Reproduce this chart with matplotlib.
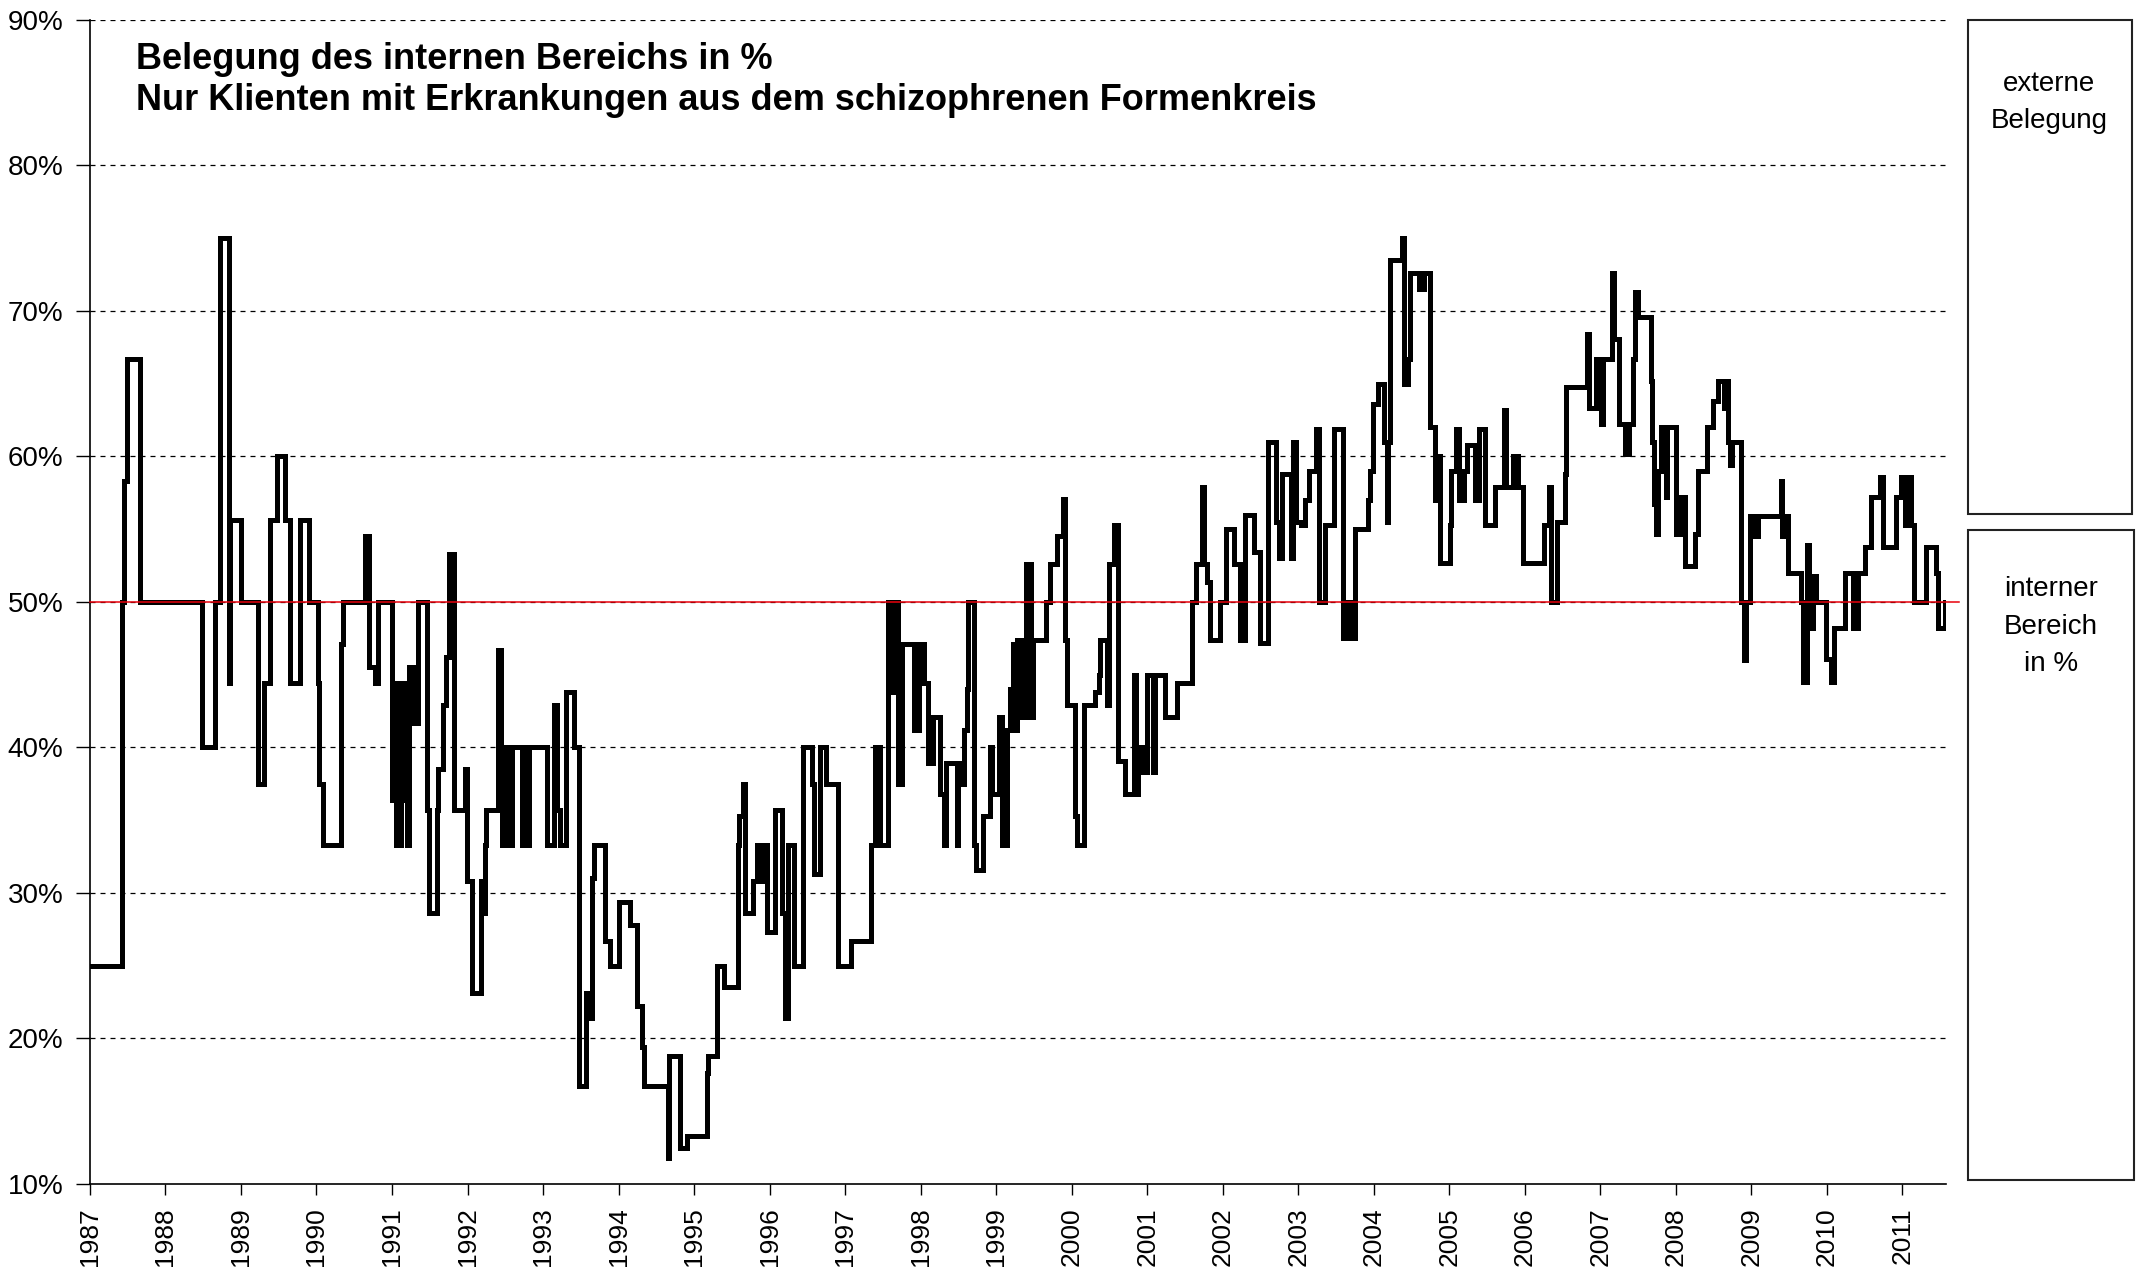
import matplotlib
matplotlib.use('Agg')
matplotlib.rcParams.update({'font.family': ['Liberation Sans', 'DejaVu Sans']})
matplotlib.rcParams.update({'font.size': 20})
import matplotlib.pyplot as plt
from matplotlib.patches import Rectangle
from matplotlib.ticker import FuncFormatter

# step change dates (decimal years) and occupancy of the internal area in %
step_years = [
    1987.00, 1987.42, 1987.45, 1987.49, 1987.66, 1988.48, 1988.66, 1988.72, 1988.84, 1988.86,
    1989.00, 1989.22, 1989.31, 1989.39, 1989.48, 1989.58, 1989.65, 1989.78, 1989.90, 1990.02,
    1990.04, 1990.08, 1990.32, 1990.35, 1990.64, 1990.70, 1990.78, 1990.81, 1991.00, 1991.03,
    1991.05, 1991.12, 1991.14, 1991.17, 1991.20, 1991.23, 1991.28, 1991.35, 1991.47, 1991.49,
    1991.59, 1991.61, 1991.68, 1991.71, 1991.75, 1991.82, 1991.97, 1991.99, 1992.06, 1992.18,
    1992.20, 1992.23, 1992.25, 1992.40, 1992.44, 1992.46, 1992.51, 1992.52, 1992.59, 1992.72,
    1992.75, 1992.77, 1992.81, 1993.05, 1993.15, 1993.19, 1993.22, 1993.31, 1993.41, 1993.48,
    1993.57, 1993.58, 1993.65, 1993.68, 1993.82, 1993.89, 1994.01, 1994.15, 1994.25, 1994.31,
    1994.34, 1994.65, 1994.67, 1994.81, 1994.91, 1995.17, 1995.19, 1995.31, 1995.40, 1995.58,
    1995.60, 1995.65, 1995.67, 1995.78, 1995.83, 1995.88, 1995.92, 1995.97, 1996.07, 1996.17,
    1996.21, 1996.24, 1996.33, 1996.44, 1996.56, 1996.59, 1996.67, 1996.75, 1996.91, 1997.08,
    1997.34, 1997.39, 1997.46, 1997.57, 1997.63, 1997.67, 1997.70, 1997.76, 1997.91, 1997.98,
    1998.04, 1998.10, 1998.17, 1998.26, 1998.31, 1998.34, 1998.48, 1998.50, 1998.52, 1998.57,
    1998.61, 1998.63, 1998.71, 1998.74, 1998.83, 1998.92, 1998.95, 1999.04, 1999.08, 1999.14,
    1999.19, 1999.22, 1999.25, 1999.28, 1999.33, 1999.39, 1999.46, 1999.49, 1999.66, 1999.71,
    1999.80, 1999.89, 1999.91, 1999.94, 2000.04, 2000.05, 2000.07, 2000.17, 2000.31, 2000.36,
    2000.38, 2000.47, 2000.49, 2000.50, 2000.56, 2000.62, 2000.71, 2000.82, 2000.85, 2000.88,
    2000.93, 2001.00, 2001.08, 2001.10, 2001.23, 2001.40, 2001.59, 2001.65, 2001.72, 2001.75,
    2001.79, 2001.83, 2001.96, 2002.04, 2002.15, 2002.23, 2002.30, 2002.42, 2002.49, 2002.60,
    2002.71, 2002.75, 2002.79, 2002.90, 2002.93, 2002.97, 2003.04, 2003.09, 2003.14, 2003.24,
    2003.27, 2003.35, 2003.47, 2003.60, 2003.62, 2003.65, 2003.68, 2003.73, 2003.75, 2003.92,
    2003.95, 2003.99, 2004.06, 2004.13, 2004.17, 2004.19, 2004.22, 2004.37, 2004.40, 2004.45,
    2004.48, 2004.60, 2004.67, 2004.75, 2004.81, 2004.84, 2004.88, 2005.01, 2005.03, 2005.09,
    2005.13, 2005.20, 2005.24, 2005.34, 2005.39, 2005.48, 2005.60, 2005.72, 2005.75, 2005.84,
    2005.91, 2005.98, 2006.26, 2006.32, 2006.35, 2006.43, 2006.53, 2006.55, 2006.82, 2006.85,
    2006.95, 2007.01, 2007.03, 2007.15, 2007.18, 2007.25, 2007.33, 2007.38, 2007.43, 2007.46,
    2007.50, 2007.67, 2007.69, 2007.71, 2007.74, 2007.76, 2007.80, 2007.87, 2007.89, 2008.00,
    2008.07, 2008.12, 2008.25, 2008.29, 2008.42, 2008.49, 2008.56, 2008.64, 2008.67, 2008.69,
    2008.72, 2008.75, 2008.86, 2008.87, 2008.91, 2008.93, 2008.98, 2009.05, 2009.09, 2009.40,
    2009.41, 2009.44, 2009.49, 2009.66, 2009.68, 2009.74, 2009.76, 2009.82, 2009.86, 2009.99,
    2010.06, 2010.10, 2010.24, 2010.35, 2010.41, 2010.50, 2010.59, 2010.70, 2010.74, 2010.92,
    2010.98, 2011.04, 2011.10, 2011.11, 2011.16, 2011.32, 2011.44, 2011.47, 2011.56, 2011.58,
]
occupancy = [
    25.0, 50.0, 58.3, 66.7, 50.0, 40.0, 50.0, 75.0, 44.4, 55.6,
    50.0, 37.5, 44.4, 55.6, 60.0, 55.6, 44.4, 55.6, 50.0, 44.4,
    37.5, 33.3, 47.1, 50.0, 54.5, 45.5, 44.4, 50.0, 36.4, 44.4,
    33.3, 44.4, 36.4, 44.4, 33.3, 45.5, 41.7, 50.0, 35.7, 28.6,
    35.7, 38.5, 42.9, 46.2, 53.3, 35.7, 38.5, 30.8, 23.1, 30.8,
    28.6, 33.3, 35.7, 46.7, 40.0, 33.3, 40.0, 33.3, 40.0, 33.3,
    40.0, 33.3, 40.0, 33.3, 42.9, 35.7, 33.3, 43.8, 40.0, 16.7,
    23.1, 21.4, 31.0, 33.3, 26.7, 25.0, 29.4, 27.8, 22.2, 19.4,
    16.7, 11.8, 18.8, 12.5, 13.3, 17.6, 18.8, 25.0, 23.5, 33.3,
    35.3, 37.5, 28.6, 30.8, 33.3, 30.8, 33.3, 27.3, 35.7, 28.6,
    21.4, 33.3, 25.0, 40.0, 37.5, 31.3, 40.0, 37.5, 25.0, 26.7,
    33.3, 40.0, 33.3, 50.0, 43.8, 50.0, 37.5, 47.1, 41.2, 47.1,
    44.4, 38.9, 42.1, 36.8, 33.3, 38.9, 33.3, 38.9, 37.5, 41.2,
    44.0, 50.0, 33.3, 31.6, 35.3, 40.0, 36.8, 42.1, 33.3, 41.2,
    44.0, 47.1, 41.2, 47.4, 42.1, 52.6, 42.1, 47.4, 50.0, 52.6,
    54.5, 57.1, 47.4, 42.9, 37.5, 35.3, 33.3, 42.9, 43.8, 45.0,
    47.4, 42.9, 47.4, 52.6, 55.3, 39.1, 36.8, 45.0, 36.8, 40.0,
    38.3, 45.0, 38.3, 45.0, 42.1, 44.4, 50.0, 52.6, 57.9, 52.6,
    51.4, 47.4, 50.0, 55.0, 52.6, 47.4, 56.0, 53.4, 47.2, 61.0,
    55.5, 53.0, 58.8, 53.0, 61.0, 55.5, 55.3, 57.0, 59.0, 61.9,
    50.0, 55.3, 61.9, 47.5, 50.0, 47.5, 50.0, 47.5, 55.0, 57.0,
    59.0, 63.6, 65.0, 61.0, 55.5, 61.0, 73.5, 75.0, 65.0, 66.7,
    72.6, 71.5, 72.6, 62.0, 57.0, 60.0, 52.7, 55.3, 59.0, 61.9,
    57.0, 59.0, 60.8, 57.0, 61.9, 55.3, 57.9, 63.2, 57.9, 60.0,
    57.9, 52.7, 55.3, 57.9, 50.0, 55.5, 58.8, 64.8, 68.4, 63.3,
    66.7, 62.2, 66.7, 72.6, 68.1, 62.2, 60.2, 62.2, 66.7, 71.3,
    69.6, 65.2, 61.0, 56.7, 54.7, 59.0, 62.0, 57.2, 62.0, 54.7,
    57.2, 52.5, 54.7, 59.0, 62.0, 63.8, 65.2, 63.3, 65.2, 61.0,
    59.4, 61.0, 54.2, 50.0, 46.0, 50.0, 55.9, 54.5, 55.9, 58.3,
    54.5, 55.9, 52.0, 50.0, 44.5, 53.9, 48.2, 51.8, 50.0, 46.1,
    44.5, 48.2, 52.0, 48.2, 52.0, 53.8, 57.2, 58.6, 53.8, 57.2,
    58.6, 55.3, 58.6, 55.3, 50.0, 53.8, 52.0, 48.2, 50.0, 50.0,
]
year_ticks = list(range(1987, 2012))
pct_ticks = [10, 20, 30, 40, 50, 60, 70, 80, 90]
target_pct = 50
x_end = 2011.58

title_lines = ['Belegung des internen Bereichs in %',
               'Nur Klienten mit Erkrankungen aus dem schizophrenen Formenkreis']

fig = plt.figure(figsize=(21.36, 12.73), dpi=100)
ax = fig.add_axes([0.0421, 0.070, 0.8690, 0.9143])

ax.step(step_years, occupancy, where='post', color='black', lw=3.6,
        solid_joinstyle='miter', zorder=3)
ax.plot([1987, 2011.75], [target_pct, target_pct], color='#e8000b', lw=1.1,
        clip_on=False, zorder=4)

ax.set_xlim(1987, x_end)
ax.set_ylim(10, 90)
ax.set_xticks(year_ticks)
ax.set_xticklabels([str(y) for y in year_ticks], rotation=90, fontsize=19)
ax.set_yticks(pct_ticks)
ax.yaxis.set_major_formatter(FuncFormatter(lambda v, p: '%d%%' % v))
ax.tick_params(axis='y', direction='out', length=10, width=1, pad=9, labelsize=20)
ax.tick_params(axis='x', direction='out', length=8, width=1, pad=9)

for v in pct_ticks[1:]:
    ax.axhline(v, color='black', lw=0.9, dashes=(4, 4), zorder=1)

for side in ['top', 'right']:
    ax.spines[side].set_visible(False)
ax.spines['left'].set_linewidth(1.2)
ax.spines['bottom'].set_linewidth(1.2)

ax.text(0.025, 0.981, '\n'.join(title_lines), transform=ax.transAxes,
        fontsize=26, fontweight='bold', va='top', ha='left', linespacing=1.2)

# side boxes
fig.patches.append(Rectangle((0.9213, 0.5962), 0.0768, 0.3881, transform=fig.transFigure,
                             fill=False, edgecolor='#222222', lw=1.5))
fig.patches.append(Rectangle((0.9213, 0.0731), 0.0778, 0.5106, transform=fig.transFigure,
                             fill=False, edgecolor='#222222', lw=1.5))
fig.text(0.9593, 0.9195, 'externe\nBelegung', ha='center', va='center',
         fontsize=20, linespacing=1.58)
fig.text(0.9602, 0.5078, 'interner\nBereich\nin %', ha='center', va='center',
         fontsize=20, linespacing=1.58)

fig.savefig('out.png', dpi=100)
plt.close()
